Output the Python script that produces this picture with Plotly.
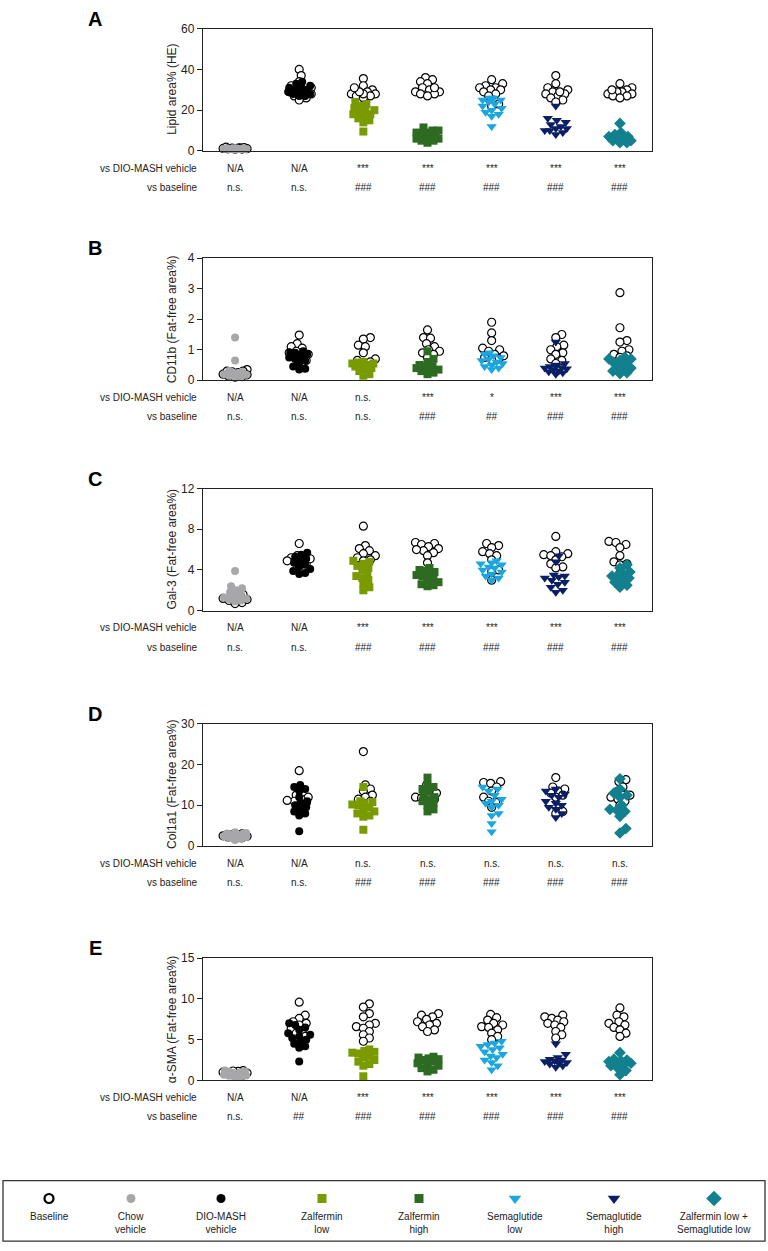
import plotly.graph_objects as go

W, H = 768, 1251

groups = ["Chow vehicle", "DIO-MASH vehicle", "Zalfermin low", "Zalfermin high",
          "Semaglutide low", "Semaglutide high", "Zalfermin low + Semaglutide low"]

# ---------------- data ----------------
lipid_baseline = [
    [1.2, 1.5, 0.9, 1.8, 1.1, 1.4, 0.8, 1.6, 1.0, 1.3],
    [40, 37, 34, 32, 31, 30, 29, 28, 28, 27, 26, 25, 29, 31],
    [35.5, 32, 30, 29, 28, 28, 27, 27, 26, 28, 29, 31],
    [36, 35, 34, 33, 31, 30, 29, 29, 28, 28, 27, 31],
    [35, 33, 32, 31, 31, 30, 30, 29, 28, 27, 25, 23, 22],
    [37, 33, 31, 30, 29, 28, 28, 27, 26, 25, 24, 29],
    [33, 31, 30, 29, 29, 28, 28, 27, 27, 26, 30],
]
lipid_treated = [
    [0.8, 1.0, 1.2, 0.9, 1.1, 0.7, 1.3, 1.0, 0.9, 1.2],
    [34, 33, 32, 31, 30, 30, 29, 29, 28, 28, 27, 27, 30, 31],
    [24, 23, 22, 21, 20, 19, 18, 17, 16, 15, 14, 9.5, 18, 20],
    [11.5, 10, 9, 8, 8, 7, 7, 6, 6, 5, 5, 4, 9, 10],
    [26, 26, 25, 25, 24, 23, 22, 21, 20, 19, 18, 17, 12],
    [22, 16, 15, 14, 13, 12, 11, 11, 10, 10, 9, 8],
    [13.5, 9, 8, 7, 6, 6, 5, 5, 4, 4, 7],
]

cd11b_baseline = [
    [0.35, 0.3, 0.28, 0.25, 0.2, 0.15, 0.1, 0.12, 0.3, 0.18],
    [1.48, 1.2, 1.1, 1.05, 0.95, 0.9, 0.85, 0.75, 0.65, 0.6, 0.8],
    [1.4, 1.35, 1.15, 1.1, 0.9, 0.7, 0.65, 0.6, 0.55],
    [1.65, 1.4, 1.38, 1.2, 1.1, 1.0, 0.95, 0.9, 0.85, 0.75],
    [1.9, 1.55, 1.3, 1.05, 1.0, 0.95, 0.85, 0.8, 0.75, 0.7, 0.68],
    [1.5, 1.4, 1.15, 1.1, 1.0, 0.9, 0.85, 0.7, 0.65, 0.55],
    [2.87, 1.72, 1.3, 1.25, 1.0, 0.95, 0.85, 0.8, 0.75],
]
cd11b_treated = [
    [1.4, 0.65, 0.3, 0.25, 0.2, 0.18, 0.15, 0.12, 0.1, 0.22, 0.28],
    [0.95, 0.9, 0.85, 0.8, 0.75, 0.7, 0.65, 0.55, 0.45, 0.38, 0.35, 0.9],
    [0.6, 0.58, 0.55, 0.5, 0.48, 0.45, 0.4, 0.35, 0.3, 0.2, 0.15, 0.55],
    [0.95, 0.7, 0.6, 0.5, 0.45, 0.4, 0.38, 0.35, 0.3, 0.25, 0.2, 0.45],
    [0.9, 0.85, 0.8, 0.75, 0.7, 0.65, 0.6, 0.55, 0.5, 0.45, 0.4, 0.35],
    [1.25, 0.55, 0.5, 0.45, 0.42, 0.4, 0.38, 0.35, 0.3, 0.28, 0.25, 0.2],
    [0.75, 0.7, 0.65, 0.6, 0.55, 0.45, 0.4, 0.35, 0.3, 0.25, 0.22, 0.7],
]

gal3_baseline = [
    [1.6, 1.4, 1.2, 1.0, 0.8, 0.7, 1.3, 1.1],
    [6.6, 5.4, 5.2, 5.0, 4.8, 4.6, 4.4, 5.1, 4.9],
    [8.3, 6.4, 6.1, 5.9, 5.6, 5.4, 5.2, 5.0, 4.9],
    [6.7, 6.6, 6.5, 6.3, 6.1, 5.9, 5.7, 5.4, 4.7, 6.0],
    [6.6, 6.4, 6.2, 5.8, 5.6, 5.4, 4.0, 3.8, 3.0, 5.0],
    [7.3, 5.8, 5.6, 5.5, 5.4, 5.3, 5.0, 4.6, 4.3, 4.2],
    [6.8, 6.7, 6.5, 6.2, 5.4, 4.8, 4.6, 4.5, 3.8, 3.7],
]
gal3_treated = [
    [3.9, 2.4, 2.2, 2.0, 1.8, 1.6, 1.4, 1.2, 1.0, 0.9, 1.1, 1.3],
    [5.7, 5.5, 5.3, 5.1, 4.9, 4.7, 4.5, 4.3, 4.1, 3.9, 3.7, 3.6],
    [4.9, 4.8, 4.6, 4.4, 4.2, 4.0, 3.6, 3.4, 3.2, 3.0, 2.6, 2.3, 2.0],
    [4.2, 4.0, 3.9, 3.8, 3.6, 3.4, 3.2, 3.0, 2.8, 2.6, 2.4, 2.5, 3.5],
    [4.9, 4.7, 4.5, 4.3, 4.2, 4.0, 3.8, 3.6, 3.4, 3.2, 3.0, 4.6],
    [5.4, 4.8, 3.5, 3.4, 3.3, 3.2, 3.0, 2.8, 2.6, 2.3, 2.0, 1.8],
    [4.5, 4.2, 3.8, 3.6, 3.4, 3.2, 3.0, 2.8, 2.5, 2.3, 3.5],
]

col1a1_baseline = [
    [3.0, 2.8, 2.6, 2.4, 2.2, 2.0, 1.8, 2.5],
    [18.5, 12.5, 12.0, 11.5, 11.0, 10.5, 10.0, 11.2],
    [23.2, 15.0, 14.0, 13.5, 12.5, 12.0, 11.5, 11.0, 10.5],
    [15.0, 14.0, 13.5, 13.0, 12.5, 12.0, 11.5, 11.0, 11.8],
    [15.8, 15.6, 15.4, 14.5, 13.5, 12.0, 11.0, 10.8, 9.5],
    [16.8, 14.5, 14.0, 13.5, 13.0, 12.5, 12.0, 8.5, 8.0],
    [16.3, 15.8, 14.5, 13.5, 12.5, 12.0, 11.5, 11.0, 10.0, 12.5],
]
col1a1_treated = [
    [3.4, 3.2, 3.0, 2.8, 2.6, 2.4, 2.2, 2.0, 1.8, 1.5, 2.7, 3.1],
    [15.0, 14.5, 14.0, 13.5, 12.0, 11.0, 10.5, 10.0, 9.5, 9.0, 8.5, 8.0, 7.5, 3.6],
    [14.5, 11.0, 10.8, 10.5, 10.2, 10.0, 9.5, 9.0, 8.5, 8.0, 7.5, 7.2, 4.0],
    [16.8, 15.0, 14.5, 14.0, 13.5, 12.5, 12.0, 11.5, 11.0, 10.5, 10.0, 9.0, 8.5],
    [14.5, 14.0, 13.5, 12.5, 11.5, 11.0, 10.5, 10.0, 9.5, 8.0, 7.5, 5.5, 3.5],
    [14.0, 13.5, 12.5, 12.0, 11.0, 10.5, 10.0, 9.5, 9.0, 8.0, 7.0, 12.8],
    [16.5, 14.0, 13.0, 12.5, 12.0, 10.0, 9.0, 8.8, 8.5, 7.3, 4.3, 3.2],
]

sma_baseline = [
    [1.2, 1.1, 1.0, 0.9, 0.8, 0.6, 0.5, 1.15],
    [9.6, 8.0, 7.6, 7.2, 7.0, 6.8, 6.4, 6.1, 5.8, 5.4, 5.1],
    [9.4, 9.0, 8.2, 7.8, 7.0, 6.8, 6.6, 6.4, 6.0, 5.6, 5.2, 4.8],
    [8.2, 8.0, 7.8, 7.5, 7.2, 7.0, 6.8, 6.6, 6.2, 6.0],
    [8.1, 7.7, 7.4, 7.0, 6.8, 6.6, 6.5, 6.2, 5.8, 5.4, 5.0],
    [8.0, 7.8, 7.6, 7.4, 7.2, 7.0, 6.8, 6.5, 6.0, 5.6, 5.2],
    [8.9, 8.0, 7.8, 7.2, 7.0, 6.8, 6.5, 6.2, 5.8, 5.4],
]
sma_treated = [
    [1.2, 1.1, 1.0, 0.9, 0.8, 0.7, 0.6, 0.5, 0.4, 0.55, 1.05],
    [7.0, 6.8, 6.5, 6.2, 5.8, 5.6, 5.4, 5.2, 5.0, 4.8, 4.5, 4.2, 4.0, 2.3],
    [3.8, 3.6, 3.5, 3.4, 3.3, 3.0, 2.8, 2.5, 2.3, 2.0, 1.8, 0.5],
    [2.9, 2.8, 2.7, 2.6, 2.5, 2.3, 2.1, 2.0, 1.8, 1.5, 1.3, 1.1],
    [4.8, 4.6, 4.4, 4.2, 4.0, 3.8, 3.5, 3.2, 3.0, 2.8, 2.5, 2.2, 1.8, 1.3],
    [4.5, 3.2, 2.8, 2.6, 2.5, 2.4, 2.3, 2.2, 2.1, 2.0, 1.8, 1.6],
    [3.4, 2.6, 2.5, 2.4, 2.3, 2.2, 2.1, 2.0, 1.8, 1.5, 1.2, 0.7],
]

panel_letters = ["A", "B", "C", "D", "E"]
y_titles = ["Lipid area% (HE)", "CD11b (Fat-free area%)", "Gal-3 (Fat-free area%)",
            "Col1a1 (Fat-free area%)", "α-SMA (Fat-free area%)"]
y_ticks = [[0, 20, 40, 60], [0, 1, 2, 3, 4], [0, 4, 8, 12], [0, 10, 20, 30], [0, 5, 10, 15]]

stats_vs_dio = [
    ["N/A", "N/A", "***", "***", "***", "***", "***"],
    ["N/A", "N/A", "n.s.", "***", "*", "***", "***"],
    ["N/A", "N/A", "***", "***", "***", "***", "***"],
    ["N/A", "N/A", "n.s.", "n.s.", "n.s.", "n.s.", "n.s."],
    ["N/A", "N/A", "***", "***", "***", "***", "***"],
]
stats_vs_base = [
    ["n.s.", "n.s.", "###", "###", "###", "###", "###"],
    ["n.s.", "n.s.", "n.s.", "###", "##", "###", "###"],
    ["n.s.", "n.s.", "###", "###", "###", "###", "###"],
    ["n.s.", "n.s.", "###", "###", "###", "###", "###"],
    ["n.s.", "##", "###", "###", "###", "###", "###"],
]

legend_labels = ["Baseline", "Chow<br>vehicle", "DIO-MASH<br>vehicle", "Zalfermin<br>low",
                 "Zalfermin<br>high", "Semaglutide<br>low", "Semaglutide<br>high",
                 "Zalfermin low +<br>Semaglutide low"]

baseline_data = [lipid_baseline, cd11b_baseline, gal3_baseline, col1a1_baseline, sma_baseline]
treated_data = [lipid_treated, cd11b_treated, gal3_treated, col1a1_treated, sma_treated]

# ---------------- styles ----------------
colors = ["#A7A7A9", "#000000", "#7A9A01", "#2D6B22", "#1BA6E0", "#0B1F66", "#12808E"]
symbols = ["circle", "circle", "square", "square", "triangle-down", "triangle-down", "diamond"]
sizes = [8, 8, 8, 8, 9, 9, 9]
FONT = "Liberation Sans, Arial, sans-serif"
TXT = "#222222"

PLOT_L, PLOT_R = 203, 652
panel_tops = [22, 254, 487, 725, 962]
PANEL_H = 123.5
PX_PER_CAT = (PLOT_R - PLOT_L) / 7.0


def py(px):
    return 1 - px / H


def swarm(vals, ymax, diam, factor, maxoff):
    """compact beeswarm offsets in pixels (overlap allowed beyond maxoff)"""
    scale = PANEL_H / ymax
    ypx = [v * scale for v in vals]
    order = sorted(range(len(vals)), key=lambda i: ypx[i])
    placed = []
    offs = [0.0] * len(vals)
    mind = diam * factor
    cands = [0]
    for k in range(1, maxoff + 1):
        cands += [k, -k]
    for i in order:
        best, bestd = 0, -1.0
        for c in cands:
            dmin = min([((c - px) ** 2 + (ypx[i] - pyy) ** 2) ** 0.5 for px, pyy in placed] or [1e9])
            if dmin >= mind:
                best = c
                break
            if dmin > bestd + 0.5:
                best, bestd = c, dmin
        placed.append((best, ypx[i]))
        offs[i] = best
    return offs


fig = go.Figure()
annotations = []
layout_axes = {}

for p in range(5):
    k = p + 1
    xa = "x" if k == 1 else f"x{k}"
    ya = "y" if k == 1 else f"y{k}"
    ymax = y_ticks[p][-1]
    top = panel_tops[p]
    bottom = top + PANEL_H

    for g in range(7):
        b = baseline_data[p][g]
        offs = swarm(b, ymax, 8, 0.8, 12)
        fig.add_trace(go.Scatter(
            x=[g + o / PX_PER_CAT for o in offs], y=b, mode="markers",
            xaxis=xa, yaxis=ya, showlegend=False, cliponaxis=False,
            marker=dict(symbol="circle", size=8, color="white",
                        line=dict(color="black", width=1.2))))
    for g in range(7):
        t = treated_data[p][g]
        offs = swarm(t, ymax, sizes[g], 0.75, 11)
        fig.add_trace(go.Scatter(
            x=[g + o / PX_PER_CAT for o in offs], y=t, mode="markers",
            xaxis=xa, yaxis=ya, showlegend=False, cliponaxis=False,
            marker=dict(symbol=symbols[g], size=sizes[g], color=colors[g],
                        line=dict(width=0))))

    layout_axes[f"xaxis{k if k > 1 else ''}"] = dict(
        domain=[PLOT_L / W, PLOT_R / W], range=[-0.5, 6.5], anchor=ya,
        showline=True, mirror=True, linecolor="#222", linewidth=1.4,
        showticklabels=False, ticks="", showgrid=False, zeroline=False, fixedrange=True)
    layout_axes[f"yaxis{k if k > 1 else ''}"] = dict(
        domain=[py(bottom), py(top)], range=[0, ymax], anchor=xa,
        tickvals=y_ticks[p], ticks="outside", ticklen=5, tickwidth=1.2, tickcolor="#222",
        showline=True, mirror=True, linecolor="#222", linewidth=1.4,
        tickfont=dict(size=12, color=TXT, family=FONT),
        showgrid=False, zeroline=False, fixedrange=True)

    annotations.append(dict(text=f"<b>{panel_letters[p]}</b>", xref="paper", yref="paper",
                            x=95 / W, y=py(top - 10), showarrow=False,
                            font=dict(size=20, color="black", family=FONT),
                            xanchor="center", yanchor="middle"))
    annotations.append(dict(text=y_titles[p], xref="paper", yref="paper",
                            x=172 / W, y=py((top + bottom) / 2), textangle=-90, showarrow=False,
                            font=dict(size=12, color=TXT, family=FONT),
                            xanchor="center", yanchor="middle"))
    r1, r2 = bottom + 17.5, bottom + 37
    for lab, rr in (("vs DIO-MASH vehicle", r1), ("vs baseline", r2)):
        annotations.append(dict(text=lab, xref="paper", yref="paper", x=199 / W, y=py(rr),
                                showarrow=False, xanchor="right", yanchor="middle",
                                font=dict(size=10, color=TXT, family=FONT)))
    for g in range(7):
        annotations.append(dict(text=stats_vs_dio[p][g], xref=xa, yref="paper", x=g, y=py(r1),
                                showarrow=False, xanchor="center", yanchor="middle",
                                font=dict(size=10, color=TXT, family=FONT)))
        annotations.append(dict(text=stats_vs_base[p][g], xref=xa, yref="paper", x=g, y=py(r2),
                                showarrow=False, xanchor="center", yanchor="middle",
                                font=dict(size=10, color=TXT, family=FONT)))

# ---------------- legend (drawn manually in a hidden pixel-space axis) ----------------
legend_x = [49, 131, 221, 322, 419, 515, 614, 714]
LEG_MARK_Y = 1205
leg_symbols = ["circle-open"] + symbols
leg_colors = ["black"] + colors
leg_sizes = [9, 9, 9, 9, 9, 11, 11, 12]
for i in range(8):
    fig.add_trace(go.Scatter(
        x=[legend_x[i]], y=[LEG_MARK_Y], mode="markers", xaxis="x6", yaxis="y6",
        showlegend=False, cliponaxis=False,
        marker=dict(symbol=leg_symbols[i], size=leg_sizes[i], color=leg_colors[i],
                    line=dict(width=2.2 if i == 0 else 0, color=leg_colors[i]))))
    annotations.append(dict(text=legend_labels[i], xref="x6", yref="y6", x=legend_x[i], y=1216,
                            showarrow=False, xanchor="center", yanchor="top", align="center",
                            font=dict(size=10, color=TXT, family=FONT)))

layout_axes["xaxis6"] = dict(domain=[0, 1], range=[0, W], anchor="y6", visible=False, fixedrange=True)
layout_axes["yaxis6"] = dict(domain=[0, 1], range=[H, 0], anchor="x6", visible=False, fixedrange=True)

shapes = [dict(type="rect", xref="x6", yref="y6", x0=3, x1=765, y0=1187, y1=1248,
               line=dict(color="#333", width=1.3), fillcolor="rgba(0,0,0,0)", layer="below")]

fig.update_layout(
    width=W, height=H, margin=dict(l=0, r=0, t=0, b=0),
    paper_bgcolor="white", plot_bgcolor="rgba(0,0,0,0)",
    font=dict(family=FONT, color=TXT),
    annotations=annotations, shapes=shapes, showlegend=False,
    **layout_axes)

fig.write_html("out.html", config={"displayModeBar": False})
